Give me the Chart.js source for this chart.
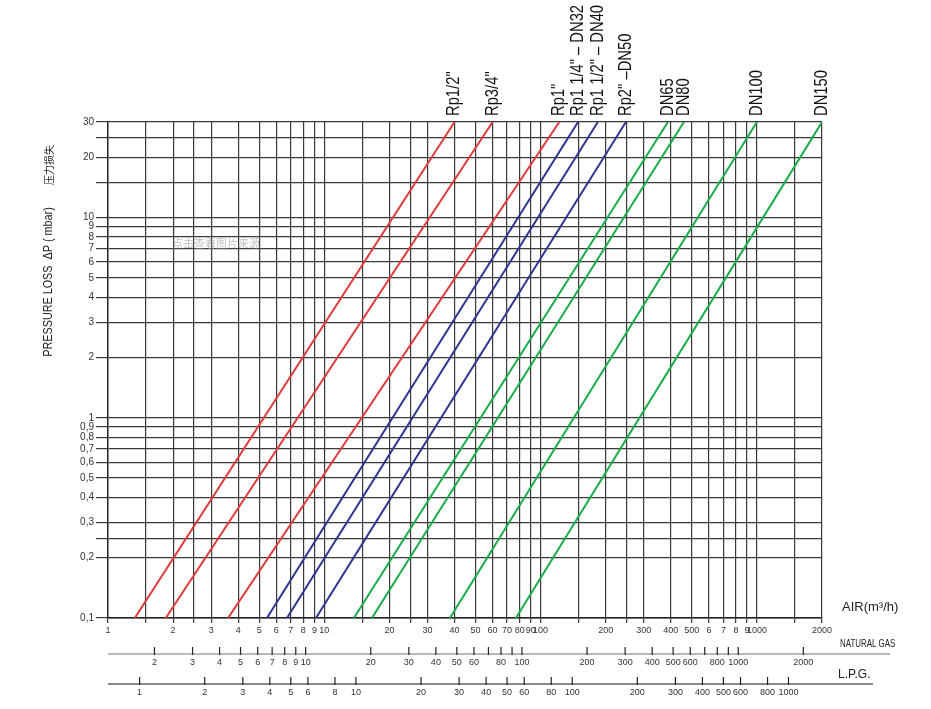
<!DOCTYPE html>
<html><head><meta charset="utf-8">
<script src="https://cdn.jsdelivr.net/npm/chart.js@4"></script>
<style>html,body{margin:0;padding:0;background:#fff}#w{width:931px;height:709px}</style>
</head><body><div id="w"><canvas id="c" width="931" height="709"></canvas></div>
<script>
const lineNames = ['Rp1/2"','Rp3/4"','Rp1"','Rp1 1/4" – DN32','Rp1 1/2" – DN40','Rp2" –DN50','DN65','DN80','DN100','DN150'];
const qAtLow = [1.33,1.85,3.59,5.43,6.72,9.15,13.7,16.6,38.1,76.9];   // air m3/h at 0.1 mbar
const qAtHigh = [40,60,122,149,184,248,388,460,1000,2000];           // air m3/h at 30 mbar
const lineColors = ['#e03a3a','#e03a3a','#e03a3a','#2e3590','#2e3590','#2e3590','#1aab4a','#1aab4a','#1aab4a','#1aab4a'];
const xGrid = [1,1.5,2,2.5,3,4,5,6,7,8,9,10,15,20,25,30,40,50,60,70,80,90,100,150,200,250,300,400,500,600,700,800,900,1000,1500,2000];
const xLabels = {1:'1',2:'2',3:'3',4:'4',5:'5',6:'6',7:'7',8:'8',9:'9',10:'10',20:'20',30:'30',40:'40',50:'50',60:'60',70:'70',80:'80',90:'90',100:'100',200:'200',300:'300',400:'400',500:'500',600:'6',700:'7',800:'8',900:'9',1000:'1000',2000:'2000'};
const yGrid = [0.1,0.2,0.25,0.3,0.4,0.5,0.6,0.7,0.8,0.9,1,2,3,4,5,6,7,8,9,10,15,20,25,30];
const yLabels = {0.1:'0,1',0.2:'0,2',0.3:'0,3',0.4:'0,4',0.5:'0,5',0.6:'0,6',0.7:'0,7',0.8:'0,8',0.9:'0,9',1:'1',2:'2',3:'3',4:'4',5:'5',6:'6',7:'7',8:'8',9:'9',10:'10',20:'20',30:'30'};
const ngTicks = [2,3,4,5,6,7,8,9,10,20,30,40,50,60,70,80,90,100,200,300,400,500,600,700,800,900,1000,2000];
const ngLabels = [2,3,4,5,6,7,8,9,10,20,30,40,50,60,80,100,200,300,400,500,600,800,1000,2000];
const lpgTicks = [1,2,3,4,5,6,8,10,20,30,40,50,60,80,100,200,300,400,500,600,800,1000];
const ngFactor = 0.82, lpgFactor = 1.4;

const datasets = lineNames.map((n,i)=>({label:n,data:[{x:qAtLow[i],y:0.1},{x:qAtHigh[i],y:30}],borderColor:lineColors[i],borderWidth:2,pointRadius:0,showLine:true,fill:false}));

const extras = {id:'extras',afterDraw(ch){
  const c=ch.ctx, xs=ch.scales.x;
  c.save();
  c.fillStyle='#111'; c.font='18px "Liberation Sans",sans-serif';
  c.textAlign='left'; c.textBaseline='middle';
  lineNames.forEach((n,i)=>{const px=xs.getPixelForValue(qAtHigh[i]);c.save();c.translate(px,116);c.rotate(-Math.PI/2);c.scale(0.82,1);c.fillText(n,0,0);c.restore();});
  function axis(y,ticks,labels,f,x2,col){
    c.strokeStyle=col;c.lineWidth=1.2;c.beginPath();c.moveTo(108,y);c.lineTo(x2,y);c.stroke();
    c.strokeStyle='#222';
    ticks.forEach(v=>{const p=xs.getPixelForValue(v*f);c.beginPath();c.moveTo(p,y-7);c.lineTo(p,y+1);c.stroke();});
    c.fillStyle='#333';c.font='9px "Liberation Sans",sans-serif';c.textAlign='center';c.textBaseline='middle';
    labels.forEach(v=>{c.fillText(String(v),xs.getPixelForValue(v*f),y+9);});
  }
  axis(654,ngTicks,ngLabels,ngFactor,890,'#777');
  axis(684,lpgTicks,lpgTicks,lpgFactor,873,'#111');
  c.fillStyle='#222';c.textAlign='left';
  c.font='13px "Liberation Sans",sans-serif';c.fillText('AIR(m³/h)',842,607);
  c.save();c.translate(840,644);c.scale(0.72,1);c.font='11px "Liberation Sans",sans-serif';c.fillText('NATURAL GAS',0,0);c.restore();
  c.font='12px "Liberation Sans",sans-serif';c.fillText('L.P.G.',838,675);
  c.save();c.translate(49,282);c.rotate(-Math.PI/2);c.scale(0.9,1);c.textAlign='center';
  c.font='12px "Liberation Sans",sans-serif';c.fillText('PRESSURE LOSS  ΔP ( mbar)',0,0);c.restore();
  c.save();c.translate(49,165);c.rotate(-Math.PI/2);c.textAlign='center';
  c.font='10px "Noto Sans CJK SC",sans-serif';c.fillText('压力损失',0,0);c.restore();
  c.fillStyle='rgba(150,150,150,0.6)';c.font='11px "Noto Sans CJK SC",sans-serif';c.textAlign='left';c.fillText('点击查看图片来源',172,244);
  c.restore();
}};

new Chart(document.getElementById('c'),{type:'scatter',data:{datasets},
options:{responsive:false,devicePixelRatio:1,animation:false,
layout:{padding:{top:122,right:109,left:0,bottom:0}},
plugins:{legend:{display:false},tooltip:{enabled:false}},
scales:{
 x:{type:'logarithmic',min:1,max:2000,
   afterBuildTicks:s=>{s.ticks=xGrid.map(v=>({value:v}));},
   afterFit:s=>{s.height=91;},
   grid:{color:'#3a3a3a',lineWidth:1.2,tickLength:5,drawTicks:true},
   border:{color:'#222',width:1.4},
   ticks:{autoSkip:false,maxRotation:0,padding:2,color:'#333',font:{size:9,family:'Liberation Sans'},callback:(v)=>xLabels[v]||''}},
 y:{type:'logarithmic',min:0.1,max:30,
   afterBuildTicks:s=>{s.ticks=yGrid.map(v=>({value:v}));},
   afterFit:s=>{s.width=108;},
   grid:{color:'#3a3a3a',lineWidth:1.2,tickLength:12},
   border:{color:'#222',width:1.4},
   ticks:{autoSkip:false,padding:2,color:'#333',font:{size:10,family:'Liberation Sans'},callback:(v)=>yLabels[v]||''}}
}},plugins:[extras]});
</script></body></html>
